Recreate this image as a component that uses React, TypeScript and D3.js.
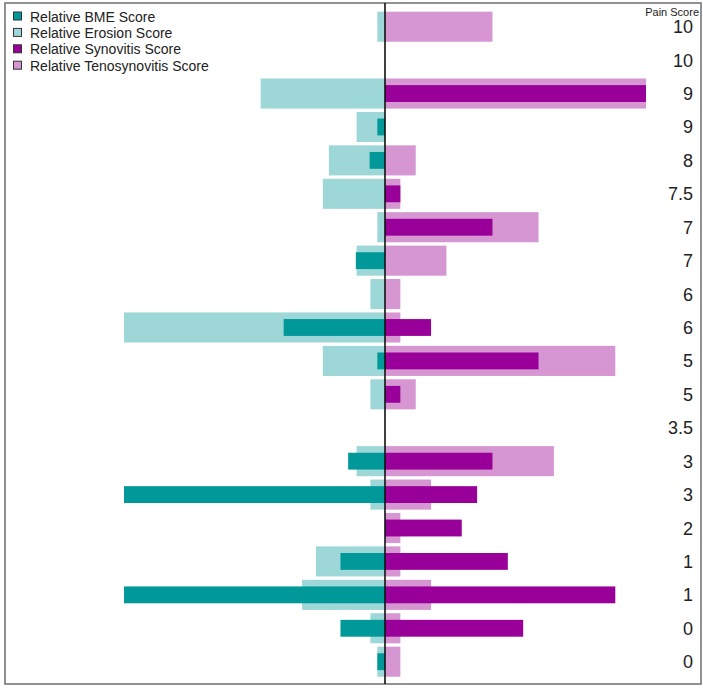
import React from "react";
import * as d3 from "d3";

const painScores = ["10", "10", "9", "9", "8", "7.5", "7", "7", "6", "6", "5", "5", "3.5", "3", "3", "2", "1", "1", "0", "0"];
const bmeScores = [0, 0, 0, 0.5, 1, 0, 0, 1.9, 0, 6.6, 0.5, 0, 0, 2.4, 17, 0, 2.9, 17, 2.9, 0.5];
const erosionScores = [0.5, 0, 8.1, 1.85, 3.65, 4.05, 0.5, 1.85, 0.95, 17, 4.05, 0.95, 0, 1.85, 0.95, 0, 4.5, 5.4, 0.95, 0.5];
const synovitisScores = [0, 0, 17, 0, 0, 1, 7, 0, 0, 3, 10, 1, 0, 7, 6, 5, 8, 15, 9, 0];
const tenosynovitisScores = [7, 0, 17, 0, 2, 1, 10, 4, 1, 1, 15, 2, 0, 11, 3, 1, 1, 3, 1, 1];

const legendLabels = ["Relative BME Score", "Relative Erosion Score", "Relative Synovitis Score", "Relative Tenosynovitis Score"];
const colors = { bme: "#009898", erosion: "#9dd7d7", syn: "#990099", teno: "#d596d2" };
const legendColors = [colors.bme, colors.erosion, colors.syn, colors.teno];

const W = 703, H = 688;
const FONT = "'Liberation Sans', Arial, sans-serif";

export default function App() {
  const rows = painScores.map((_, i) => i);
  const x = d3.scaleLinear().domain([-17, 17]).range([124, 646]);
  const y = d3.scaleBand<number>().domain(rows).range([10, 678.4]).paddingInner(0.1).paddingOuter(0.05);
  const bw = y.bandwidth();
  const innerH = bw * 0.56;
  const x0 = x(0);

  return (
    <svg width={W} height={H} style={{ position: "absolute", left: 0, top: 0, background: "#fff" }}>
      <rect x={5} y={3} width={696} height={681} fill="#fff" stroke="#777" strokeWidth={1.6} />
      {rows.map((i) => {
        const top = y(i)!;
        const cy = top + bw / 2;
        return (
          <g key={i}>
            {erosionScores[i] > 0 && (
              <rect x={x(-erosionScores[i])} y={top} width={x0 - x(-erosionScores[i])} height={bw} fill={colors.erosion} />
            )}
            {tenosynovitisScores[i] > 0 && (
              <rect x={x0} y={top} width={x(tenosynovitisScores[i]) - x0} height={bw} fill={colors.teno} />
            )}
            {bmeScores[i] > 0 && (
              <rect x={x(-bmeScores[i])} y={cy - innerH / 2} width={x0 - x(-bmeScores[i])} height={innerH} fill={colors.bme} />
            )}
            {synovitisScores[i] > 0 && (
              <rect x={x0} y={cy - innerH / 2} width={x(synovitisScores[i]) - x0} height={innerH} fill={colors.syn} />
            )}
            <text x={693} y={cy + 6.5} textAnchor="end" fontFamily={FONT} fontSize={18} fill="#222">
              {painScores[i]}
            </text>
          </g>
        );
      })}
      <line x1={x0} x2={x0} y1={3} y2={684} stroke="#111" strokeWidth={1.6} />
      <text x={699} y={16} textAnchor="end" fontFamily={FONT} fontSize={11} fill="#222">Pain Score</text>
      {legendLabels.map((lab, i) => (
        <g key={lab} transform={`translate(0, ${16.5 + i * 16.4})`}>
          <rect x={13.5} y={-4.5} width={8} height={8} fill={legendColors[i]} stroke="#333" strokeWidth={1} />
          <text x={30} y={5} fontFamily={FONT} fontSize={14} fill="#222">{lab}</text>
        </g>
      ))}
    </svg>
  );
}
